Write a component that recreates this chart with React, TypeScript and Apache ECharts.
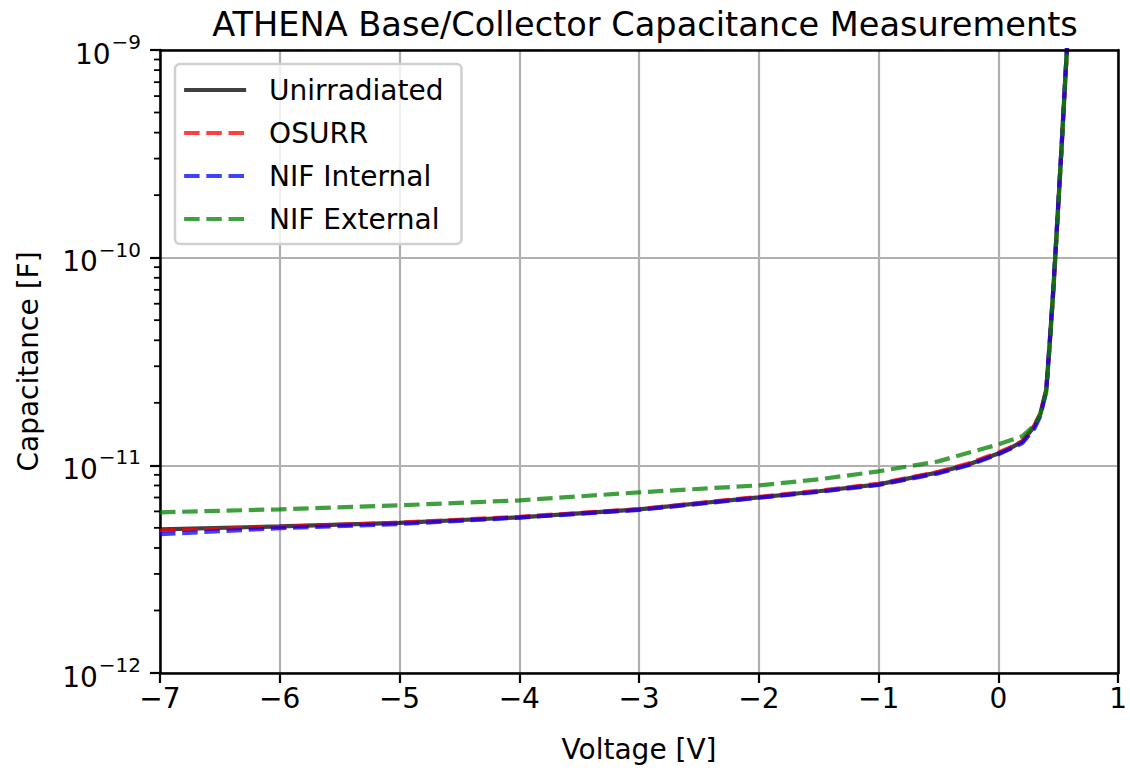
import React, { useEffect, useRef } from "react";
import * as echarts from "echarts";

const FONT = "DejaVu Sans";

// Bias voltage sweep (V)
const voltages = [
  -7, -6, -5, -4, -3, -2, -1.5, -1, -0.5, -0.25, 0, 0.1, 0.2, 0.3, 0.35, 0.4,
  0.43, 0.46, 0.5, 0.53, 0.56, 0.58,
];

// Base/collector capacitance (F) for each device condition
const unirradiated = [
  4.92e-12, 5.08e-12, 5.28e-12, 5.62e-12, 6.14e-12, 7.01e-12, 7.5e-12, 8.1e-12,
  9.25e-12, 1.01e-11, 1.14e-11, 1.21e-11, 1.3e-11, 1.54e-11, 1.76e-11, 2.31e-11,
  4.0e-11, 7.2e-11, 1.78e-10, 3.6e-10, 7.5e-10, 1.2e-9,
];
const osurr = [
  4.85e-12, 5.05e-12, 5.3e-12, 5.65e-12, 6.15e-12, 7.05e-12, 7.55e-12, 8.15e-12,
  9.3e-12, 1.02e-11, 1.15e-11, 1.22e-11, 1.31e-11, 1.55e-11, 1.77e-11, 2.3e-11,
  3.9e-11, 7.0e-11, 1.75e-10, 3.5e-10, 7.4e-10, 1.2e-9,
];
const nifInternal = [
  4.66e-12, 4.98e-12, 5.22e-12, 5.6e-12, 6.1e-12, 6.98e-12, 7.45e-12, 8.05e-12,
  9.15e-12, 1.0e-11, 1.13e-11, 1.2e-11, 1.28e-11, 1.5e-11, 1.72e-11, 2.28e-11,
  4.0e-11, 7.2e-11, 1.8e-10, 3.6e-10, 7.5e-10, 1.2e-9,
];
const nifExternal = [
  5.94e-12, 6.14e-12, 6.42e-12, 6.78e-12, 7.41e-12, 8.01e-12, 8.56e-12, 9.36e-12,
  1.045e-11, 1.15e-11, 1.26e-11, 1.32e-11, 1.38e-11, 1.56e-11, 1.76e-11, 2.25e-11,
  3.8e-11, 7.0e-11, 1.75e-10, 3.5e-10, 7.3e-10, 1.2e-9,
];

const seriesNames = ["Unirradiated", "OSURR", "NIF Internal", "NIF External"];
const seriesColors = ["#000000", "#ff0000", "#0000ff", "#008000"];
const seriesDashed = [false, true, true, true];
const seriesValues = [unirradiated, osurr, nifInternal, nifExternal];

const xTicks = { min: -7, max: 1, interval: 1 };
const yRange = { min: 1e-12, max: 1e-9 };
const minorMultipliers = [2, 3, 4, 5, 6, 7, 8, 9];

const LW = 4.2;
const SPINE = 2.5;

export default function App() {
  const ref = useRef<HTMLDivElement>(null);

  useEffect(() => {
    document.body.style.margin = "0";
    if (!ref.current) return;
    const chart = echarts.init(ref.current, undefined, { renderer: "svg" });

    const series = seriesNames.map((name, i) => ({
      name,
      type: "line",
      data: voltages.map((v, j) => [v, seriesValues[i][j]]),
      showSymbol: false,
      symbol: "none",
      clip: true,
      lineStyle: {
        color: seriesColors[i],
        width: LW,
        opacity: 0.75,
        type: seriesDashed[i] ? [15.5, 6.7] : "solid",
        cap: "butt",
      },
      itemStyle: { color: seriesColors[i], opacity: 0.75 },
      z: 3 + i,
    }));

    const tickStyle = { color: "#000", width: 2.2 };
    const gridLine = { show: true, lineStyle: { color: "#b0b0b0", width: 2.2 } };
    const spineOnly = {
      axisLine: { show: true, onZero: false, lineStyle: { color: "#000", width: SPINE } },
      axisTick: { show: false },
      axisLabel: { show: false },
      splitLine: { show: false },
      z: 6,
    };

    chart.setOption({
      animation: false,
      backgroundColor: "#ffffff",
      title: {
        text: "ATHENA Base/Collector Capacitance Measurements",
        left: 640,
        top: 2,
        textAlign: "center",
        textStyle: {
          fontFamily: FONT,
          fontSize: 33.6,
          fontWeight: "normal",
          color: "#000",
        },
      },
      legend: {
        orient: "vertical",
        left: 175,
        top: 64,
        padding: [12, 18, 11, 7],
        itemWidth: 62,
        itemHeight: 14,
        itemGap: 15,
        backgroundColor: "rgba(255,255,255,0.8)",
        borderColor: "#d0d0d0",
        borderWidth: 2.5,
        borderRadius: 5,
        data: seriesNames,
        lineStyle: { width: LW },
        itemStyle: { opacity: 0 },
        textStyle: {
          fontFamily: FONT,
          fontSize: 28,
          color: "#000",
          padding: [0, 0, 0, 18],
        },
        z: 20,
      },
      grid: {
        left: 160,
        right: 10,
        top: 50,
        bottom: 95,
      },
      xAxis: [
        {
          type: "value",
          min: xTicks.min,
          max: xTicks.max,
          interval: xTicks.interval,
          name: "Voltage [V]",
          nameLocation: "middle",
          nameGap: 62,
          nameTextStyle: { fontFamily: FONT, fontSize: 28, color: "#000" },
          axisLine: { show: true, onZero: false, lineStyle: { color: "#000", width: SPINE } },
          axisTick: { show: true, inside: false, length: 10, lineStyle: tickStyle },
          axisLabel: {
            fontFamily: FONT,
            fontSize: 28,
            color: "#000",
            margin: 11,
            formatter: (v: number) => String(v).replace("-", "\u2212"),
          },
          splitLine: gridLine,
        },
        {
          type: "value",
          position: "top",
          min: xTicks.min,
          max: xTicks.max,
          interval: xTicks.interval,
          ...spineOnly,
        },
      ],
      yAxis: [
        {
          type: "log",
          logBase: 10,
          min: yRange.min,
          max: yRange.max,
          name: "Capacitance [F]",
          nameLocation: "middle",
          nameGap: 118,
          nameRotate: 90,
          nameTextStyle: { fontFamily: FONT, fontSize: 28, color: "#000" },
          axisLine: { show: true, onZero: false, lineStyle: { color: "#000", width: SPINE } },
          axisTick: { show: true, inside: false, length: 10, lineStyle: tickStyle },
          axisLabel: {
            fontFamily: FONT,
            color: "#000",
            margin: 19,
            formatter: (v: number) => {
              const e = Math.round(Math.log10(v));
              return `{b|10}{s|\u2212${-e}}`;
            },
            rich: {
              b: { fontFamily: FONT, fontSize: 28, color: "#000", verticalAlign: "bottom", padding: [8, 0, 0, 0] },
              s: { fontFamily: FONT, fontSize: 20, color: "#000", verticalAlign: "top", padding: [0, 0, 10, 1] },
            },
          },
          splitLine: gridLine,
        },
        {
          type: "log",
          logBase: 10,
          position: "right",
          min: yRange.min,
          max: yRange.max,
          ...spineOnly,
        },
      ],
      series,
    });

    // Minor ticks on the log axis at 2..9 × each decade
    const x0 = chart.convertToPixel({ xAxisIndex: 0 }, xTicks.min) as number;
    const minorTicks: any[] = [];
    for (let d = -12; d < -9; d++) {
      for (const k of minorMultipliers) {
        const y = chart.convertToPixel({ yAxisIndex: 0 }, k * Math.pow(10, d)) as number;
        minorTicks.push({
          type: "line",
          shape: { x1: x0 - 6, y1: y, x2: x0, y2: y },
          style: { stroke: "#000", lineWidth: 1.8 },
          z: 20,
        });
      }
    }
    chart.setOption({ graphic: minorTicks });

    return () => chart.dispose();
  }, []);

  return <div ref={ref} style={{ width: 1130, height: 768 }} />;
}
